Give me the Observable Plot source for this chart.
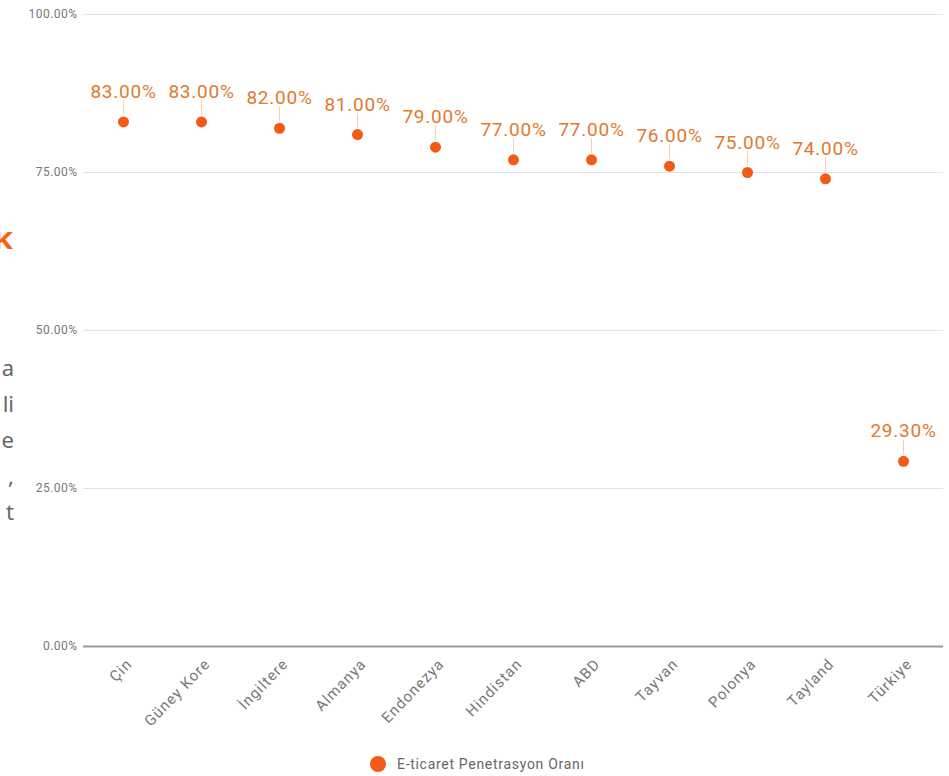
<!DOCTYPE html>
<html>
<head>
<meta charset="utf-8">
<script src="https://cdn.jsdelivr.net/npm/d3@7"></script>
<script src="https://cdn.jsdelivr.net/npm/@observablehq/plot@0.6"></script>
<style>
  html, body { margin: 0; padding: 0; background: #fff; overflow: hidden; }
  #wrap { position: relative; width: 949px; height: 776px; overflow: hidden; font-family: Roboto, sans-serif; }
  #chart { position: absolute; left: 0; top: 0; }
  #chart svg text { letter-spacing: 0.04em; }
  #chart svg g[aria-label="x-axis tick label"] text { letter-spacing: 0.07em; }
  .side { position: absolute; white-space: nowrap; font-family: "Noto Sans", sans-serif; }
  #heading { right: 936px; top: 225px; font-size: 30px; font-weight: 700; color: #ff5e0e; line-height: 30px; transform: scaleY(0.8); }
  #para { right: 935px; top: 349px; font-size: 22px; color: #666; line-height: 36px; text-align: right; }
  #legend { position: absolute; left: 370px; top: 756px; display: flex; align-items: center; font-size: 14px; letter-spacing: 0.05em; color: #666; }
  #legend .sw { width: 16px; height: 16px; border-radius: 50%; background: #f25a16; margin-right: 11px; }
</style>
</head>
<body>
<div id="wrap">
  <div id="chart"></div>
  <div id="heading" class="side">K</div>
  <div id="para" class="side">a<br>li<br>e<br>,<br>t</div>
  <div id="legend"></div>
</div>
<script>
// E-commerce penetration rate by country (%)
const countries = ["Çin", "Güney Kore", "İngiltere", "Almanya", "Endonezya", "Hindistan", "ABD", "Tayvan", "Polonya", "Tayland", "Türkiye"];
const rates = [83, 83, 82, 81, 79, 77, 77, 76, 75, 74, 29.3];
const yTicks = [0, 25, 50, 75, 100];
const seriesName = "E-ticaret Penetrasyon Oranı";

const data = countries.map((country, i) => ({country, rate: rates[i]}));
const pct = (v) => v.toFixed(2) + "%";

const chart = Plot.plot({
  width: 949,
  height: 740,
  marginLeft: 83,
  marginRight: 6,
  marginTop: 14,
  marginBottom: 94,
  style: {fontFamily: "Roboto, sans-serif", fontSize: "12px", color: "#777", background: "#fff"},
  x: {type: "band", domain: countries, padding: 0},
  y: {domain: [0, 100]},
  marks: [
    Plot.ruleY(yTicks.filter((t) => t > 0), {stroke: "#e3e3e3"}),
    Plot.ruleY([0], {stroke: "#9a9a9a", strokeWidth: 2}),
    Plot.axisY({ticks: yTicks, tickSize: 0, tickPadding: 6, tickFormat: pct, fontSize: 12, label: null}),
    Plot.axisX({tickSize: 0, tickPadding: 15, tickRotate: -46, fontSize: 15, dx: 6, label: null}),
    Plot.ruleX(data, {x: "country", y1: "rate", y2: "rate", insetTop: -21, insetBottom: 7, stroke: "#f7cdb0"}),
    Plot.dot(data, {x: "country", y: "rate", r: 5.5, fill: "#f25a16"}),
    Plot.text(data, {x: "country", y: "rate", text: (d) => pct(d.rate), dy: -30, fill: "#e2792e", fontSize: 19})
  ]
});
document.getElementById("chart").append(chart);

const legend = document.getElementById("legend");
legend.innerHTML = `<span class="sw"></span><span></span>`;
legend.lastChild.textContent = seriesName;
</script>
</body>
</html>
